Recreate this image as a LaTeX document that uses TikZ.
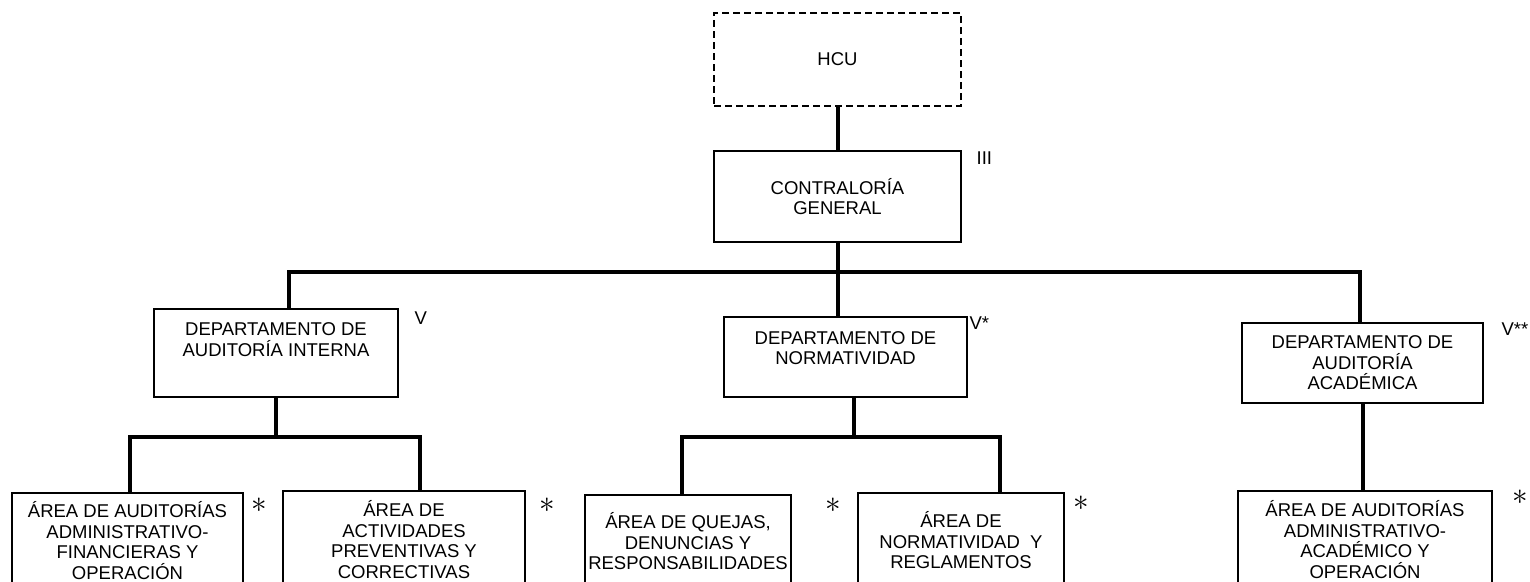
\documentclass[tikz,border=0pt]{standalone}
\usepackage{fontspec}
\setmainfont{Liberation Sans}
\usepackage{tikz}
\tikzset{every picture/.style={line width=1.6pt}}
\tikzset{
  box/.style={draw, align=center, inner sep=0pt, font=\fontsize{18.5}{20.5}\selectfont},
  dashbox/.style={box, dash pattern=on 7pt off 4pt},
  conn/.style={line width=4pt, line join=miter},
  tag/.style={anchor=north west, inner sep=0pt, font=\fontsize{18.5}{20.5}\selectfont},
  star/.style={inner sep=0pt, font=\fontsize{20}{22}\selectfont}
}
\newcommand{\areastar}{\scalebox{1.5}{$\ast$}}

\begin{document}
\begin{tikzpicture}[x=1pt,y=-1pt]
\useasboundingbox (0,0) rectangle (1530,581);

% top
\node[dashbox, minimum width=247, minimum height=93] (hcu) at (837.5,59.5) {HCU};
\node[box, minimum width=247, minimum height=91] (cg) at (837.5,196.5) {CONTRALORÍA\\GENERAL};

% departamentos
\node[box, minimum width=244, minimum height=88] (d1) at (276,353) {DEPARTAMENTO DE\\AUDITORÍA INTERNA\\ \strut};
\node[box, minimum width=243, minimum height=80] (d2) at (845.5,357) {DEPARTAMENTO DE\\NORMATIVIDAD\\[-9pt]\strut};
\node[box, minimum width=241, minimum height=80] (d3) at (1362.5,363) {DEPARTAMENTO DE\\AUDITORÍA\\ACADÉMICA};

% areas (run off the bottom of the page)
\node[box, minimum width=231, minimum height=95] (a1) at (127.5,540.5) {ÁREA DE AUDITORÍAS\\ADMINISTRATIVO-\\FINANCIERAS Y\\OPERACIÓN};
\node[box, minimum width=242, minimum height=97] (a2) at (404,539.5) {ÁREA DE\\ACTIVIDADES\\PREVENTIVAS Y\\CORRECTIVAS};
\node[box, minimum width=206, minimum height=93] (a3) at (688,541.5) {ÁREA DE QUEJAS,\\DENUNCIAS Y\\RESPONSABILIDADES};
\node[box, minimum width=206, minimum height=95] (a4) at (961,540.5) {ÁREA DE\\NORMATIVIDAD~ Y\\REGLAMENTOS};
\node[box, minimum width=254, minimum height=97] (a5) at (1365,539.5) {ÁREA DE AUDITORÍAS\\ADMINISTRATIVO-\\ACADÉMICO Y\\OPERACIÓN};

% levels
\node[tag] (tcg) at ([shift={(14,1)}]cg.north east) {III};
\node[tag] (td1) at ([shift={(15,3)}]d1.north east) {V};
\node[tag] (td2) at ([shift={(1,0)}]d2.north east) {V*};
\node[tag] (td3) at ([shift={(17,0)}]d3.north east) {V**};
\node[star] (sa1) at ([shift={(15,13)}]a1.north east) {\areastar};
\node[star] (sa2) at ([shift={(21,15)}]a2.north east) {\areastar};
\node[star] (sa3) at ([shift={(41,11)}]a3.north east) {\areastar};
\node[star] (sa4) at ([shift={(16,11)}]a4.north east) {\areastar};
\node[star] (sa5) at ([shift={(27,7)}]a5.north east) {\areastar};

% bus points
\coordinate (busl) at (289,272);
\coordinate (busr) at (1360,272);
\coordinate (s1l) at (130,437);
\coordinate (s1r) at (420,437);
\coordinate (s2m) at (854,437);
\coordinate (s2l) at (682,437);
\coordinate (s2r) at (1000,437);

% connectors
\draw[conn] (hcu) -- (cg);
\draw[conn] (cg.south) -- (cg.south |- d2.north);
\draw[conn] (busl |- d1.north) -- (busl) -- (busr) -- (busr |- d3.north);
\draw[conn] (d1.south) -- (d1.south |- s1l);
\draw[conn] (s1l |- a1.north) -- (s1l) -- (s1r) -- (s1r |- a2.north);
\draw[conn] (s2m |- d2.south) -- (s2m);
\draw[conn] (s2l |- a3.north) -- (s2l) -- (s2r) -- (s2r |- a4.north);
\draw[conn] (d3.south) -- (d3.south |- a5.north);

\end{tikzpicture}
\end{document}
